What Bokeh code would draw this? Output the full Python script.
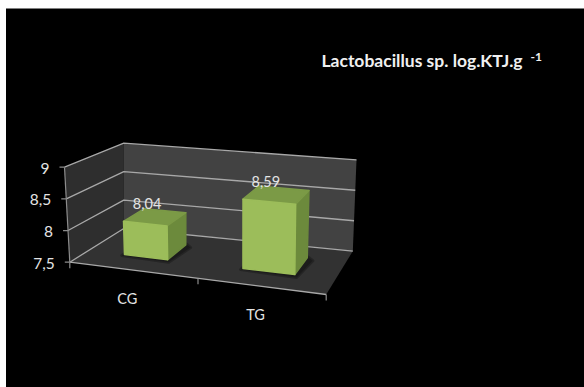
from bokeh.core.properties import value
from bokeh.embed import file_html
from bokeh.models import Range1d
from bokeh.plotting import figure
from bokeh.resources import INLINE

# Chart data
categories = ["CG", "TG"]
values = [8.04, 8.59]
value_labels = ["8,04", "8,59"]
y_ticks = [7.5, 8, 8.5, 9]
y_tick_labels = ["7,5", "8", "8,5", "9"]
title = "Lactobacillus sp. log.KTJ.g"
title_exponent = "-1"

Y_MIN, Y_MAX = 7.5, 9.0
FONT = value("Lato")
TEXT = "#e4e4e4"
GRID = "#a8a8a8"

# Screen position of the eight corners of the chart box: (across, depth, height)
CORNERS = {
    (0, 0, 0): (69.3, 261.7), (1, 0, 0): (325.7, 294.0),
    (0, 1, 0): (123.3, 228.0), (1, 1, 0): (352.3, 250.7),
    (0, 0, 1): (64.0, 166.7), (1, 0, 1): (327.0, 193.0),
    (0, 1, 1): (123.3, 142.7), (1, 1, 1): (356.0, 159.3),
}


def project(u, w, v):
    """Map across (0-1), depth (0-1) and a chart value to page coordinates."""
    t = (v - Y_MIN) / (Y_MAX - Y_MIN)
    x = y = 0.0
    for (cu, cw, ct), (px, py) in CORNERS.items():
        k = (u if cu else 1 - u) * (w if cw else 1 - w) * (t if ct else 1 - t)
        x += k * px
        y += k * py
    return x, y


def face(points):
    xy = [project(*pt) for pt in points]
    return [a for a, _ in xy], [b for _, b in xy]


p = figure(width=584, height=387, output_backend="svg", toolbar_location=None,
           x_range=Range1d(0, 584), y_range=Range1d(387, 0),
           min_border=0, background_fill_color="white", border_fill_color="white",
           outline_line_color=None)
p.axis.visible = False
p.grid.visible = False

# Slide background, leaving the thin white margin at the top and left
p.quad(left=5.5, right=584, top=8, bottom=387, fill_color="black", line_color=None)

# Walls and floor
p.patch(*face([(0, 0, 7.5), (0, 1, 7.5), (0, 1, 9), (0, 0, 9)]), fill_color="#2e2e2e", line_color=None)
p.patch(*face([(0, 1, 7.5), (1, 1, 7.5), (1, 1, 9), (0, 1, 9)]), fill_color="#424242", line_color=None)
p.patch(*face([(0, 0, 7.5), (1, 0, 7.5), (1, 1, 7.5), (0, 1, 7.5)]), fill_color="#323232", line_color=None)

# Gridlines running along the side wall and back wall
for tick in y_ticks:
    xs, ys = face([(0, 0, tick), (0, 1, tick), (1, 1, tick)])
    p.line(xs, ys, line_color=GRID, line_width=1.3)

# Value axis, category axis and their ticks
xs, ys = face([(0, 0, 7.5), (0, 0, 9)])
p.line(xs, ys, line_color="#8c8c8c", line_width=1.2)
xs, ys = face([(0, 0, 7.5), (1, 0, 7.5)])
p.line(xs, ys, line_color=GRID, line_width=1.3)
for tick in y_ticks:
    x0, y0 = project(0, 0, tick)
    p.line([x0 - 5, x0], [y0, y0], line_color="#8c8c8c", line_width=1.2)
for i in range(len(categories) + 1):
    x0, y0 = project(i / len(categories), 0, 7.5)
    p.line([x0, x0], [y0, y0 + 6], line_color="#8c8c8c", line_width=1.2)

# Bars: shadow first, then side, top and front faces
BAR_SPANS = [(0.145, 0.32), (0.625, 0.835)]
W_FRONT, W_BACK = 0.35, 0.75
for (u0, u1), v in zip(BAR_SPANS, values):
    p.patch(*face([(u0 - 0.005, W_FRONT - 0.03, 7.5), (u1 + 0.015, W_FRONT - 0.06, 7.5),
                   (u1 + 0.03, W_BACK - 0.05, 7.5), (u1, W_BACK + 0.02, 7.5), (u0, W_BACK, 7.5)]),
            fill_color="#1c1c1c", line_color="#1c1c1c", line_width=3, line_join="round", line_alpha=0.6)
    p.patch(*face([(u1, W_FRONT, 7.5), (u1, W_BACK, 7.5), (u1, W_BACK, v), (u1, W_FRONT, v)]),
            fill_color="#6c8a3c", line_color="#6c8a3c", line_width=1.5, line_join="round")
    p.patch(*face([(u0, W_FRONT, v), (u1, W_FRONT, v), (u1, W_BACK, v), (u0, W_BACK, v)]),
            fill_color="#7b9a46", line_color="#7b9a46", line_width=1.5, line_join="round")
    p.patch(*face([(u0, W_FRONT, 7.5), (u1, W_FRONT, 7.5), (u1, W_FRONT, v), (u0, W_FRONT, v)]),
            fill_color="#9cbd5a", line_color="#9cbd5a", line_width=1.5, line_join="round")

# Labels above the bars
lx, ly = [], []
for (u0, u1), v in zip(BAR_SPANS, values):
    x0, y0 = project((u0 + u1) / 2, W_BACK, v)
    lx.append(x0 - 18)
    ly.append(y0 - 7)
p.text(lx, ly, text=value_labels, text_font=FONT, text_font_size="14.5px", text_color=TEXT,
       text_align="center", text_baseline="middle")

# Value axis labels
tx, ty = [], []
for tick in y_ticks:
    x0, y0 = project(0, 0, tick)
    tx.append(x0 - 15)
    ty.append(y0 + 1)
p.text(tx, ty, text=y_tick_labels, text_font=FONT, text_font_size="15.5px", text_color=TEXT,
       text_align="right", text_baseline="middle")

# Category labels
cx, cy = [], []
for i in range(len(categories)):
    x0, y0 = project((i + 0.5) / len(categories), 0, 7.5)
    cx.append(x0 - 6.5)
    cy.append(y0 + 28.5)
p.text(cx, cy, text=categories, text_font=FONT, text_font_size="14.5px", text_color=TEXT,
       text_align="center", text_baseline="middle")

# Title with its superscript
p.text([321], [60], text=[title], text_font=FONT, text_font_style="bold", text_font_size="17.5px",
       text_color="#f0f0f0", text_align="left", text_baseline="middle")
p.text([530], [56], text=[title_exponent], text_font=FONT, text_font_style="bold", text_font_size="12px",
       text_color="#f0f0f0", text_align="left", text_baseline="middle")

open("out.html", "w").write(file_html(p, INLINE))
